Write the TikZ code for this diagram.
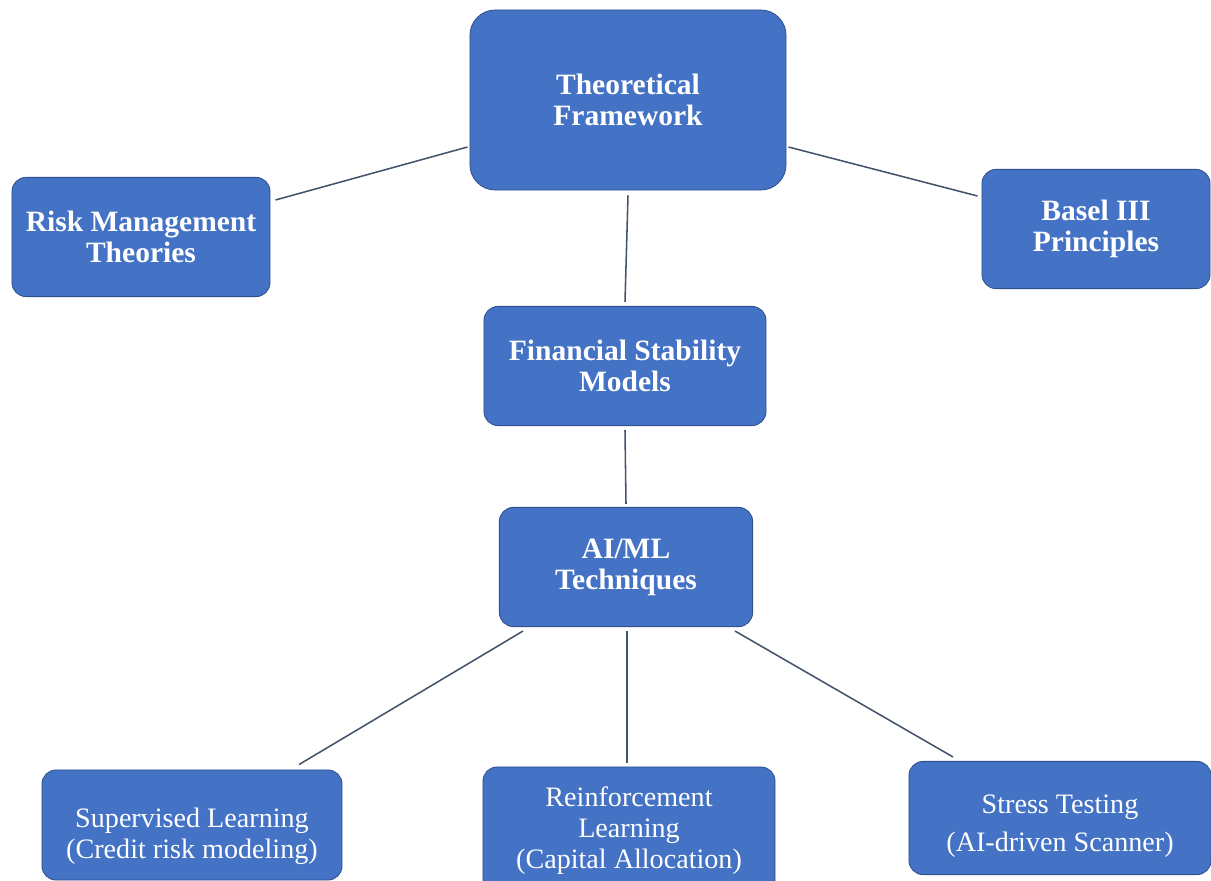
\documentclass[tikz,border=0pt]{standalone}
\usepackage{fontspec}
\setmainfont{Liberation Serif}
\usepackage{tikz}
\usetikzlibrary{positioning,calc}
\definecolor{boxblue}{HTML}{4472C4}
\definecolor{boxedge}{HTML}{2F528F}
\definecolor{linkgray}{HTML}{44546A}
\newcommand{\topgap}[1]{\rule{0pt}{#1}}
\tikzset{
  topic/.style={rectangle,rounded corners=#1,draw=boxedge,fill=boxblue,text=white,
    align=center,line width=0.6pt,inner sep=2pt,
    font=\fontsize{21}{22}\selectfont\bfseries},
  topic/.default={10pt},
  method/.style={topic,font=\fontsize{20}{#1}\selectfont},
  method/.default={22pt},
  link/.style={draw=linkgray,line width=1.1pt},
}
\begin{document}
\begin{tikzpicture}[x=0.025cm,y=-0.025cm]
  \useasboundingbox (0,0) rectangle (1211,881);
  % framework
  \node[topic=18pt,minimum width=7.9cm,minimum height=4.5cm] (frame) at (628,100)
    {Theoretical\\Framework};
  \node[topic,minimum width=6.45cm,minimum height=2.98cm] (risk) at (141,237)
    {Risk Management\\Theories};
  \node[topic,minimum width=5.7cm,minimum height=2.98cm] (basel) at (1096,229)
    {Basel III\\Principles};
  \node[topic,minimum width=7.05cm,minimum height=2.98cm] (stab) at (625,366)
    {Financial Stability\\Models};
  \node[topic,minimum width=6.33cm,minimum height=2.98cm] (aiml) at (626,567)
    {AI/ML\\Techniques};
  % techniques
  \node[method,minimum width=7.5cm,minimum height=2.75cm] (super) at (192,825)
    {\topgap{30pt}Supervised Learning\\(Credit risk modeling)};
  \node[method,minimum width=7.3cm,minimum height=3.2cm] (reinf) at (629,831)
    {\topgap{14pt}Reinforcement\\Learning\\(Capital Allocation)};
  \node[method=27pt,minimum width=7.55cm,minimum height=2.83cm] (stress) at (1060,818)
    {\topgap{25pt}Stress Testing\\(AI-driven Scanner)};
  % connectors
  \draw[link] ([shift={(-2,47)}]frame.west) -- ([shift={(5,-37)}]risk.east);
  \draw[link] ([shift={(2,47)}]frame.east) -- ([shift={(-4,-33)}]basel.west);
  \draw[link] ([shift={(0,5)}]frame.south) -- ([shift={(0,-4)}]stab.north);
  \draw[link] ([shift={(0,4)}]stab.south) -- ([shift={(0,-3)}]aiml.north);
  \draw[link] ([shift={(-103,4)}]aiml.south) -- ([shift={(107,-5)}]super.north);
  \draw[link] ([shift={(1,4)}]aiml.south) -- ([shift={(-2,-4)}]reinf.north);
  \draw[link] ([shift={(109,4)}]aiml.south) -- ([shift={(-107,-4)}]stress.north);
\end{tikzpicture}
\end{document}
